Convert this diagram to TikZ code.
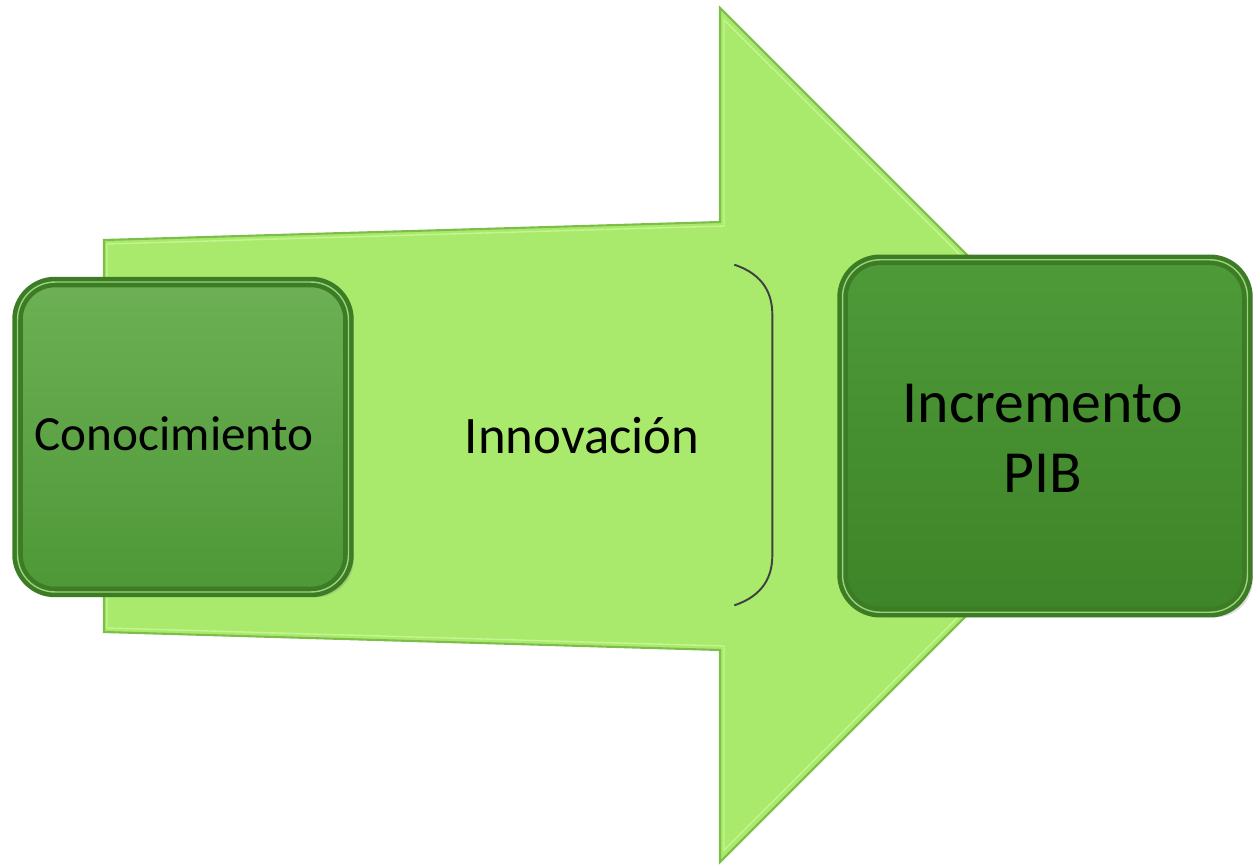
\documentclass[tikz,border=0pt]{standalone}
\usepackage{fontspec}
\setmainfont{Carlito}
\usetikzlibrary{calc,positioning,shadows}
\definecolor{arrowfill}{HTML}{A9EA6C}
\definecolor{arrowrim}{HTML}{7DBE4A}
\definecolor{arrowlight}{HTML}{C4F58E}
\definecolor{boxtop}{HTML}{6DB055}
\definecolor{boxbot}{HTML}{4E9837}
\definecolor{pibtop}{HTML}{4E9A39}
\definecolor{pibbot}{HTML}{3E8428}
\definecolor{boxrim}{HTML}{3C7C24}
\definecolor{rimlight}{HTML}{9BD27E}
\tikzset{box/.style={rounded corners=0.75cm,draw=boxrim,line width=2.6pt,
    double=rimlight,double distance=0.8pt,
    drop shadow={shadow xshift=3pt,shadow yshift=-3pt,opacity=0.25}},
  lab/.style={text=black,inner sep=0pt}}

\begin{document}
\begin{tikzpicture}[x=0.02cm,y=-0.02cm]
\useasboundingbox (0,0) rectangle (1254,865);

% Arrow
\coordinate (tail1) at (104,240);
\coordinate (tail2) at (104,632);
\coordinate (neck1) at (720,222);
\coordinate (neck2) at (720,650);
\coordinate (barb1) at (720,8);
\coordinate (barb2) at (720,862);
\coordinate (tip)   at (1147,435);
\filldraw[fill=arrowfill,draw=arrowrim,line width=1.2pt]
  (tail1) -- (neck1) -- (barb1) -- (tip) -- (barb2) -- (neck2) -- (tail2) -- cycle;
\draw[arrowlight,line width=0.8pt]
  ($(tail1)+(3,4)$) -- ($(neck1)+(4,4)$) -- ($(barb1)+(4,12)$) -- ($(tip)+(-6,0)$)
  -- ($(barb2)+(4,-12)$) -- ($(neck2)+(4,-4)$) -- ($(tail2)+(3,-4)$) -- cycle;

% Middle frame
\node (innovbox) at (582,435) [minimum width=7.6cm,minimum height=6.8cm] {};
\draw[black!75,line width=1.1pt]
  ($(innovbox.north east)+(-38,0)$) .. controls ($(innovbox.north east)+(-8,10)$) and ($(innovbox.north east)+(0,30)$) .. ($(innovbox.north east)+(0,50)$)
  -- ($(innovbox.south east)+(0,-50)$)
  .. controls ($(innovbox.south east)+(0,-30)$) and ($(innovbox.south east)+(-8,-10)$) .. ($(innovbox.south east)+(-38,0)$);

% Boxes
\node (conbox) at (183,437) [box,top color=boxtop,bottom color=boxbot,
  minimum width=6.62cm,minimum height=6.2cm] {};
\node (pibbox) at (1045,436) [box,top color=pibtop,bottom color=pibbot,
  minimum width=8.1cm,minimum height=7.05cm] {};

% Labels
\node (con) at (174,450) [lab,anchor=base] {\fontsize{28}{34}\selectfont Conocimiento};
\node (innov) at (582,453) [lab,anchor=base] {\fontsize{30}{36}\selectfont Innovación};
\node (pib) at (1043,438) [lab,align=center,font=\fontsize{34}{40}\selectfont] {Incremento\\PIB};

\end{tikzpicture}
\end{document}
